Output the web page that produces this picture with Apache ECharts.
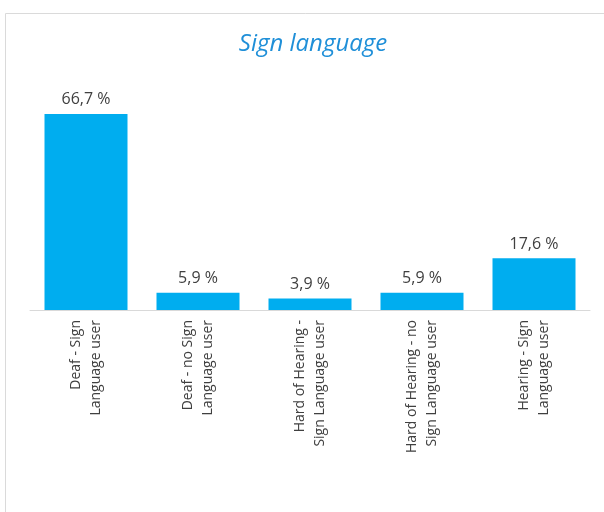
<!DOCTYPE html>
<html>
<head>
<meta charset="utf-8">
<script src="https://cdn.jsdelivr.net/npm/echarts@6/dist/echarts.min.js"></script>
<style>
  html, body { margin: 0; padding: 0; background: #fff; }
  #chart { width: 604px; height: 512px; }
</style>
</head>
<body>
<div id="chart"></div>
<script>
var categories = [
  'Deaf - Sign\nLanguage user',
  'Deaf - no Sign\nLanguage user',
  'Hard of Hearing -\nSign Language user',
  'Hard of Hearing - no\nSign Language user',
  'Hearing - Sign\nLanguage user'
];
var values = [66.7, 5.9, 3.9, 5.9, 17.6];

var myChart = echarts.init(document.getElementById('chart'));

myChart.setOption({
  animation: false,
  textStyle: { fontFamily: 'Open Sans' },
  graphic: [{
    type: 'rect',
    shape: { x: 5.5, y: 13.5, width: 620, height: 520 },
    style: { fill: 'none', stroke: '#dadada', lineWidth: 1 },
    silent: true
  }],
  title: {
    text: 'Sign language',
    left: 308,
    textAlign: 'center',
    top: 27,
    textStyle: {
      fontFamily: 'Open Sans',
      fontStyle: 'italic',
      fontWeight: 'normal',
      fontSize: 24,
      color: '#1f8fd8'
    }
  },
  grid: {
    left: 30,
    right: 14,
    top: 16,
    bottom: 202
  },
  xAxis: {
    type: 'category',
    data: categories,
    axisLine: { lineStyle: { color: '#d9d9d9', width: 1 } },
    axisTick: { show: false },
    axisLabel: {
      rotate: 90,
      interval: 0,
      margin: 10,
      color: '#404040',
      fontSize: 14,
      lineHeight: 20
    }
  },
  yAxis: {
    type: 'value',
    min: 0,
    max: 100,
    show: false,
    splitLine: { show: false }
  },
  series: [{
    type: 'bar',
    data: values,
    barWidth: 83,
    itemStyle: { color: '#00adef' },
    label: {
      show: true,
      position: 'top',
      distance: 6,
      color: '#404040',
      fontSize: 16,
      formatter: function (p) {
        return String(p.value).replace('.', ',') + ' %';
      }
    }
  }]
});
</script>
</body>
</html>
